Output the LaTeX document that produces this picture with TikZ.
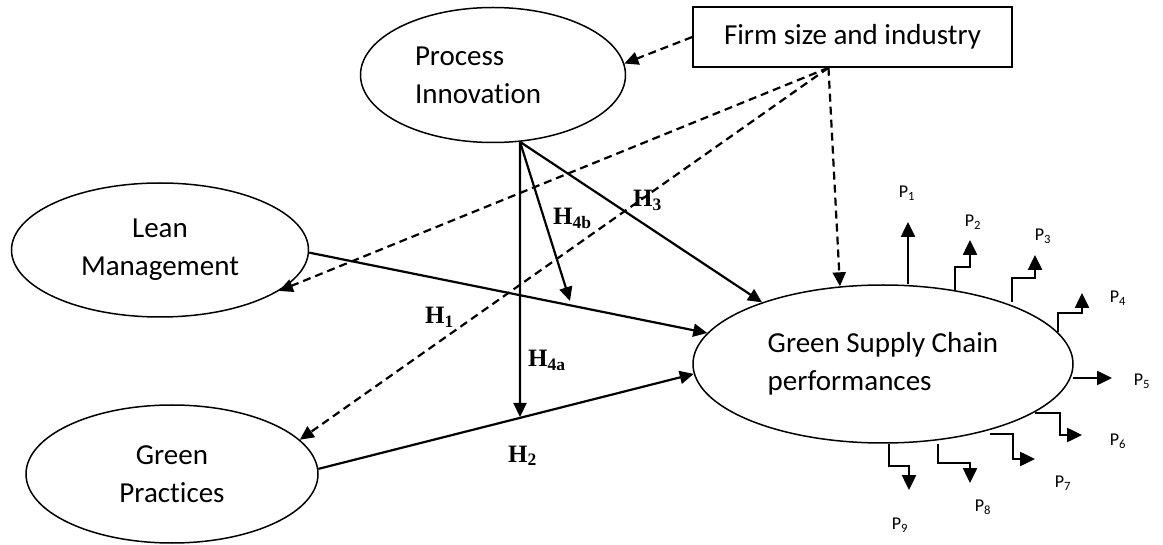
\documentclass[tikz,border=0pt]{standalone}
\usepackage{fontspec}
\setmainfont{Carlito}[Ligatures=NoCommon]
\newfontfamily\hfont{Liberation Serif}
\usetikzlibrary{shapes.geometric,arrows.meta}

\begin{document}
\begin{tikzpicture}[x=1pt,y=-1pt,
  latent/.style={ellipse,draw,line width=1.5pt,inner sep=0pt,font=\fontsize{29}{38}\selectfont},
  effect/.style={line width=2.2pt,-{Triangle[length=14pt,width=13pt]}},
  ctrl/.style={effect,dash pattern=on 8pt off 5pt},
  hyp/.style={font=\hfont\bfseries\fontsize{25}{30}\selectfont,inner sep=0pt,anchor=base west},
  pout/.style={line width=2.5pt,-{Triangle[length=15pt,width=14pt]}},
  pitem/.style={font=\fontsize{18}{20}\selectfont,inner sep=0pt}]
  \useasboundingbox (0,0) rectangle (1163,545);
  \node[latent,minimum width=265pt,minimum height=135pt,text width=156pt,align=left] (pi) at (493,75) {Process\\Innovation};
  \node[latent,minimum width=297pt,minimum height=134pt,align=center] (lean) at (160,250) {Lean\\Management};
  \node[latent,minimum width=292pt,minimum height=138pt,align=center] (gp) at (172,474) {Green\\Practices};
  \node[latent,minimum width=380pt,minimum height=158pt,align=left] (gsc) at (883,364) {Green Supply Chain\\performances};
  \node[draw,line width=1.5pt,minimum width=319pt,minimum height=60pt,font=\fontsize{29}{34}\selectfont] (firm) at (852.5,37) {Firm size and industry};
  \coordinate (m4b) at (570,301);
  \coordinate (m4a) at (520,417);
  \draw[ctrl] (firm.west) -- (pi.5);
  \draw[ctrl] (firm.232) -- (lean.-19);
  \draw[ctrl] (firm.232) -- (gp.15);
  \draw[ctrl] (firm.232) -- (gsc.119);
  \draw[effect] (lean.-1) -- (gsc.170);
  \draw[effect] (gp.2) -- (gsc.183);
  \draw[effect] (pi.-68) -- (gsc.153);
  \draw[effect] (pi.-68) -- (m4b);
  \draw[effect] (pi.-68) -- (m4a);
  \node[hyp] (h1) at (425,324) {H\textsubscript{1}};
  \node[hyp] (h2) at (508,462) {H\textsubscript{2}};
  \node[hyp] (h3) at (633,207) {H\textsubscript{3}};
  \node[hyp] (h4a) at (528,367) {H\textsubscript{4a}};
  \node[hyp] (h4b) at (553,225) {H\textsubscript{4b}};
  \foreach \sx/\sy/\ax/\ay/\bx/\by/\tx/\ty/\lx/\ly [count=\n] in {
    908/284/908/252/908/252/908/222/907/193,
    955/290/955/267/970/267/970/240/973/222,
    1012/302/1012/278/1035/278/1035/255/1043/236,
    1058/332/1058/313/1082/313/1082/293/1118/298,
    1073/378/1100/378/1100/378/1112/378/1142/381,
    1035/413/1060/413/1060/435/1082/435/1118/441,
    990/434/1013/434/1013/459/1035/459/1063/483,
    938/444/938/463/970/463/970/483/983/507,
    889/444/889/466/909/466/909/490/900/525} {
    \coordinate (s\n) at (\sx,\sy);
    \coordinate (t\n) at (\tx,\ty);
    \draw[pout] (s\n) -- (\ax,\ay) -- (\bx,\by) -- (t\n);
    \node[pitem] (p\n) at (\lx,\ly) {P\textsubscript{\n}};
  }
\end{tikzpicture}
\end{document}
